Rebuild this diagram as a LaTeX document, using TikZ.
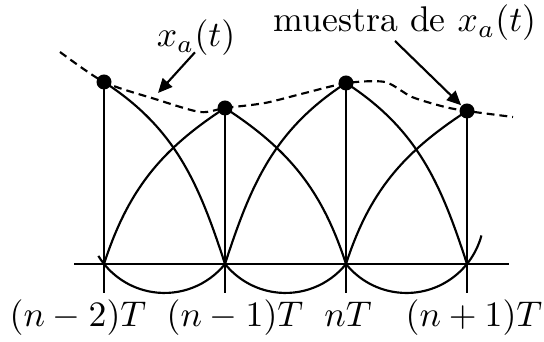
\documentclass[tikz,border=0pt]{standalone}
\usepackage{tikz}
\usetikzlibrary{arrows.meta}
\tikzset{
  % A sample of the signal
  sample/.style={circle, fill=black, draw=none, inner sep=0pt, minimum size=4.2pt},
  % Sample stems and the time axis
  stem/.style={draw=black, line width=0.8pt},
  axisline/.style={draw=black, line width=0.6pt},
  % Interpolating lobes
  lobe/.style={draw=black, line width=0.6pt},
  % The analog signal
  env/.style={draw=black, line width=0.6pt, dash pattern=on 2.2pt off 1.4pt},
  % Pointers from the labels
  ptr/.style={-{Triangle[length=4pt, width=3.6pt]}, draw=black, line width=0.6pt},
  lbl/.style={font=\normalsize, inner sep=0pt, anchor=base},
}

\begin{document}
\begin{tikzpicture}[x=0.28pt, y=0.28pt]

\useasboundingbox (0,0) rectangle (544,342);

% time axis
\coordinate (ax0) at (74,78);
\coordinate (ax1) at (509,78);
\draw[axisline] (ax0) -- (ax1);

\coordinate (a1) at (104,78);
\coordinate (a2) at (225,78);
\coordinate (a3) at (346,78);
\coordinate (a4) at (467,78);

\coordinate (b1) at (104,49);
\coordinate (b2) at (225,49);
\coordinate (b3) at (346,49);
\coordinate (b4) at (467,49);

% samples
\node[sample] (s1) at (104,260) {};
\node[sample] (s2) at (225,234) {};
\node[sample] (s3) at (346,259) {};
\node[sample] (s4) at (467,231) {};

\draw[stem] (b1) -- (s1.center);
\draw[stem] (b2) -- (s2.center);
\draw[stem] (b3) -- (s3.center);
\draw[stem] (b4) -- (s4.center);

% lobes above the axis
\draw[lobe] (s1.center) to[out=-33, in=108] (a2);
\draw[lobe] (s2.center) to[out=213, in=72] (a1);
\draw[lobe] (s2.center) to[out=-33, in=108] (a3);
\draw[lobe] (s3.center) to[out=213, in=72] (a2);
\draw[lobe] (s3.center) to[out=-33, in=108] (a4);
\draw[lobe] (s4.center) to[out=213, in=72] (a3);

% lobes below the axis
\draw[lobe] (a2) arc[start angle=321.2, end angle=211.5, radius=77.6];
\draw[lobe] (a3) arc[start angle=321.2, end angle=218.8, radius=77.6];
\draw[lobe] (a3) arc[start angle=218.8, end angle=345, radius=77.6];

% analog signal
\draw[env] plot[smooth, tension=0.45] coordinates {
  (60,290) (104,260) (155,243) (200,230) (225,234) (265,239)
  (305,249) (347,259) (385,260) (412,245) (445,235) (467,231) (513,225)};

% labels
\node[lbl] (xa) at (196,295) {$x_a(t)$};
\node[lbl] (muestra) at (405,310) {muestra de $x_a(t)$};

\coordinate (onx) at (158,249);
\coordinate (tail) at (395,301);
\draw[ptr] ([xshift=-0.3pt, yshift=-1.5pt]xa.base) -- (onx);
\draw[ptr] (tail) -- (s4);

\node[lbl] (l1) at (78,15) {$(n-2)T$};
\node[lbl] (l2) at (235,15) {$(n-1)T$};
\node[lbl] (l3) at (348,15) {$nT$};
\node[lbl] (l4) at (474,15) {$(n+1)T$};

\end{tikzpicture}
\end{document}
